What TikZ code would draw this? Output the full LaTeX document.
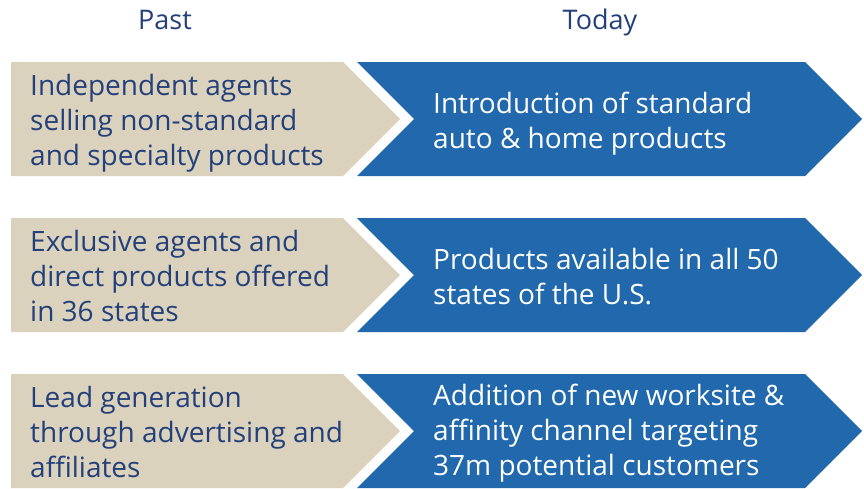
\documentclass[tikz,border=0pt]{standalone}
\usepackage{fontspec}
\setmainfont{Open Sans}
\usepackage{tikz}
\definecolor{sand}{HTML}{DBD2BD}
\definecolor{ocean}{HTML}{2268AD}
\definecolor{navy}{HTML}{23407A}
\tikzset{
  head/.style={text=navy, anchor=base, font=\fontsize{27}{30}\selectfont},
  pasttext/.style={text=navy, anchor=base west, align=left, inner sep=0pt, font=\fontsize{28}{35}\selectfont},
  nowtext/.style={text=white, anchor=base west, align=left, inner sep=0pt, font=\fontsize{28}{35}\selectfont},
}
\begin{document}
\begin{tikzpicture}[x=1pt, y=-1pt]
        \useasboundingbox (0,0) rectangle (864,488);
        \node[head] (past) at (165,29) {Past};
        \node[head] (today) at (600,29) {Today};
        % chevrons, one row every 156
        \foreach \t in {62,218,374} {
            \fill[sand] (11,\t) -- (343,\t) -- (400,\t+57) -- (343,\t+114) -- (11,\t+114) -- cycle;
            \fill[ocean] (357,\t) -- (805,\t) -- (862,\t+57) -- (805,\t+114) -- (357,\t+114) -- (414,\t+57) -- cycle;
        }
        % base anchor sits on the last line
        \node[pasttext] (indep) at (30,165) {Independent agents\\selling non-standard\\and specialty products};
        \node[nowtext] (intro) at (433,148) {Introduction of standard\\auto \& home products};
        \node[pasttext] (excl) at (30,321) {Exclusive agents and\\direct products offered\\in 36 states};
        \node[nowtext] (avail) at (433,304) {Products available in all 50\\states of the U.S.};
        \node[pasttext] (lead) at (30,477) {Lead generation\\through advertising and\\affiliates};
        \node[nowtext] (work) at (433,475) {Addition of new worksite \&\\affinity channel targeting\\37m potential customers};
\end{tikzpicture}
\end{document}
